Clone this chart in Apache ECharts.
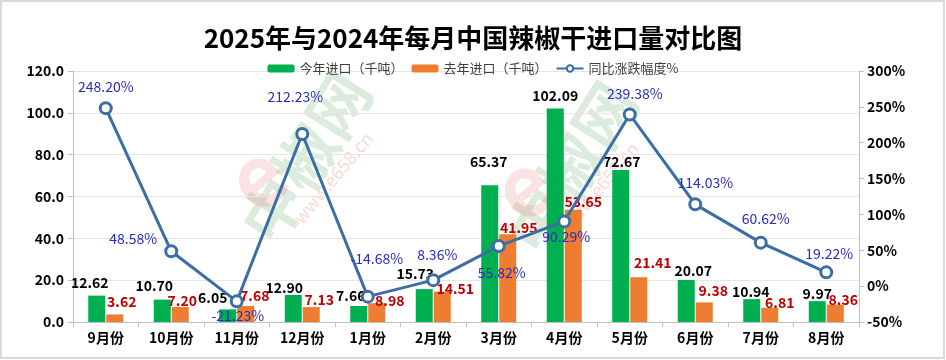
<!DOCTYPE html>
<html>
<head>
<meta charset="utf-8">
<script src="https://cdn.jsdelivr.net/npm/echarts@6/dist/echarts.min.js"></script>
<style>
html,body{margin:0;padding:0;background:#fff;}
#c{width:946px;height:360px;}
</style>
</head>
<body>
<div id="c"></div>
<script>
// ---- data ----
var categories = ['9月份','10月份','11月份','12月份','1月份','2月份','3月份','4月份','5月份','6月份','7月份','8月份'];
var thisYear = [12.62, 10.70, 6.05, 12.90, 7.66, 15.73, 65.37, 102.09, 72.67, 20.07, 10.94, 9.97];
var lastYear = [3.62, 7.20, 7.68, 7.13, 8.98, 14.51, 41.95, 53.65, 21.41, 9.38, 6.81, 8.36];
var yoy = [248.20, 48.58, -21.23, 212.23, -14.68, 8.36, 55.82, 90.29, 239.38, 114.03, 60.62, 19.22];
var seriesNames = ['今年进口（千吨）', '去年进口（千吨）', '同比涨跌幅度%'];

// ---- label placement (style only) ----
var greenOff = [[-7,-1],[-8,-2],[-15,0],[-9,5],[-8,2],[-9,-3],[-1,-12],[0,-1],[1,4],[7,3],[-1,5],[0,5]];
var orangeOff = [[7,-1],[2,6],[9,2],[8,5],[13,9],[13,9],[11,5],[10,4],[14,-3],[9,0],[10,7],[8,7]];
var lineOff = [[0,-21],[-38,-13],[1,14],[-7,-37],[9,-38],[4,-25],[3,27],[2,15],[5,-21],[10,-22],[5,-24],[3,-19]];

var FONT = '"Noto Sans CJK SC", "Noto Sans", sans-serif';

function barData(vals, offs) {
  return vals.map(function (v, i) {
    return { value: v, label: { offset: offs[i] } };
  });
}
function lineData(vals, offs) {
  return vals.map(function (v, i) {
    return { value: v, label: { offset: offs[i] } };
  });
}

function watermark(cx, cy) {
  return [
    { type: 'text', x: cx - 55, y: cy + 70, rotation: 58 * Math.PI / 180, z: 0,
      style: { text: '中椒网', font: 'bold 62px ' + FONT, fill: 'rgba(80,160,80,0.2)' } },
    { type: 'text', x: cx + 5, y: cy + 65, rotation: 50 * Math.PI / 180, z: 0,
      style: { text: 'www.e658.cn', font: '18px ' + FONT, fill: 'rgba(235,120,90,0.28)' } },
    { type: 'text', x: cx - 75, y: cy + 10, rotation: 40 * Math.PI / 180, z: 0,
      style: { text: 'e', font: 'bold 85px ' + FONT, fill: 'rgba(225,70,70,0.15)' } }
  ];
}

var chart = echarts.init(document.getElementById('c'), null, { renderer: 'canvas' });
var option = {
  backgroundColor: '#ffffff',
  animation: false,
  textStyle: { fontFamily: FONT },
  title: {
    text: '2025年与2024年每月中国辣椒干进口量对比图',
    left: 'center', top: 20,
    textStyle: { fontSize: 26, fontWeight: 'bold', color: '#000', fontFamily: FONT }
  },
  legend: {
    data: seriesNames,
    top: 57, left: 'center',
    itemWidth: 27, itemHeight: 8, itemGap: 8,
    textStyle: { fontSize: 13, color: '#404040', fontFamily: FONT }
  },
  graphic: [
    { type: 'rect', shape: { x: 1, y: 1, width: 943, height: 357 }, silent: true, z: 100,
      style: { fill: 'none', stroke: '#d9d9d9', lineWidth: 2 } }
  ].concat(watermark(285, 150)).concat(watermark(551, 160)),
  grid: { left: 73, right: 87, top: 71, bottom: 38, containLabel: false },
  xAxis: {
    type: 'category', data: categories,
    axisLine: { lineStyle: { color: '#bfbfbf' } },
    axisTick: { show: true, length: 5, lineStyle: { color: '#bfbfbf' } },
    axisLabel: { fontSize: 14, fontWeight: 'bold', color: '#000', margin: 9, fontFamily: FONT }
  },
  yAxis: [
    {
      type: 'value', min: 0, max: 120, interval: 20,
      axisLine: { show: true, lineStyle: { color: '#bfbfbf' } },
      axisTick: { show: true, length: 5, lineStyle: { color: '#bfbfbf' } },
      splitLine: { lineStyle: { color: '#e6e6e6' } },
      axisLabel: { fontSize: 14, fontWeight: 'bold', color: '#000', margin: 9,
        formatter: function (v) { return v.toFixed(1); } }
    },
    {
      type: 'value', min: -50, max: 300, interval: 50,
      axisLine: { show: true, lineStyle: { color: '#bfbfbf' } },
      axisTick: { show: true, length: 5, lineStyle: { color: '#bfbfbf' } },
      splitLine: { show: false },
      axisLabel: { fontSize: 14, fontWeight: 'bold', color: '#000', margin: 8,
        formatter: '{value}%' }
    }
  ],
  series: [
    {
      name: seriesNames[0], type: 'bar', yAxisIndex: 0,
      barWidth: 17, barGap: '6%', z: 2,
      itemStyle: { color: '#00b050' },
      label: { show: true, position: 'top', distance: 5, color: '#000',
        fontSize: 14, fontWeight: 'bold', fontFamily: FONT,
        formatter: function (p) { return p.value.toFixed(2); } },
      data: barData(thisYear, greenOff)
    },
    {
      name: seriesNames[1], type: 'bar', yAxisIndex: 0,
      barWidth: 17, z: 2,
      itemStyle: { color: '#ed7d31' },
      label: { show: true, position: 'top', distance: 5, color: '#c00000',
        fontSize: 14, fontWeight: 'bold', fontFamily: FONT,
        formatter: function (p) { return p.value.toFixed(2); } },
      data: barData(lastYear, orangeOff)
    },
    {
      name: seriesNames[2], type: 'line', yAxisIndex: 1, z: 5,
      symbol: 'circle', symbolSize: 11, showAllSymbol: true,
      lineStyle: { color: '#3b6ea5', width: 3 },
      itemStyle: { color: '#ffffff', borderColor: '#3b6ea5', borderWidth: 3 },
      label: { show: true, position: 'inside', color: '#2a2ac0',
        fontSize: 14, fontFamily: FONT,
        formatter: function (p) { return p.value.toFixed(2) + '%'; } },
      data: lineData(yoy, lineOff)
    }
  ]
};
chart.setOption(option);
</script>
</body>
</html>
